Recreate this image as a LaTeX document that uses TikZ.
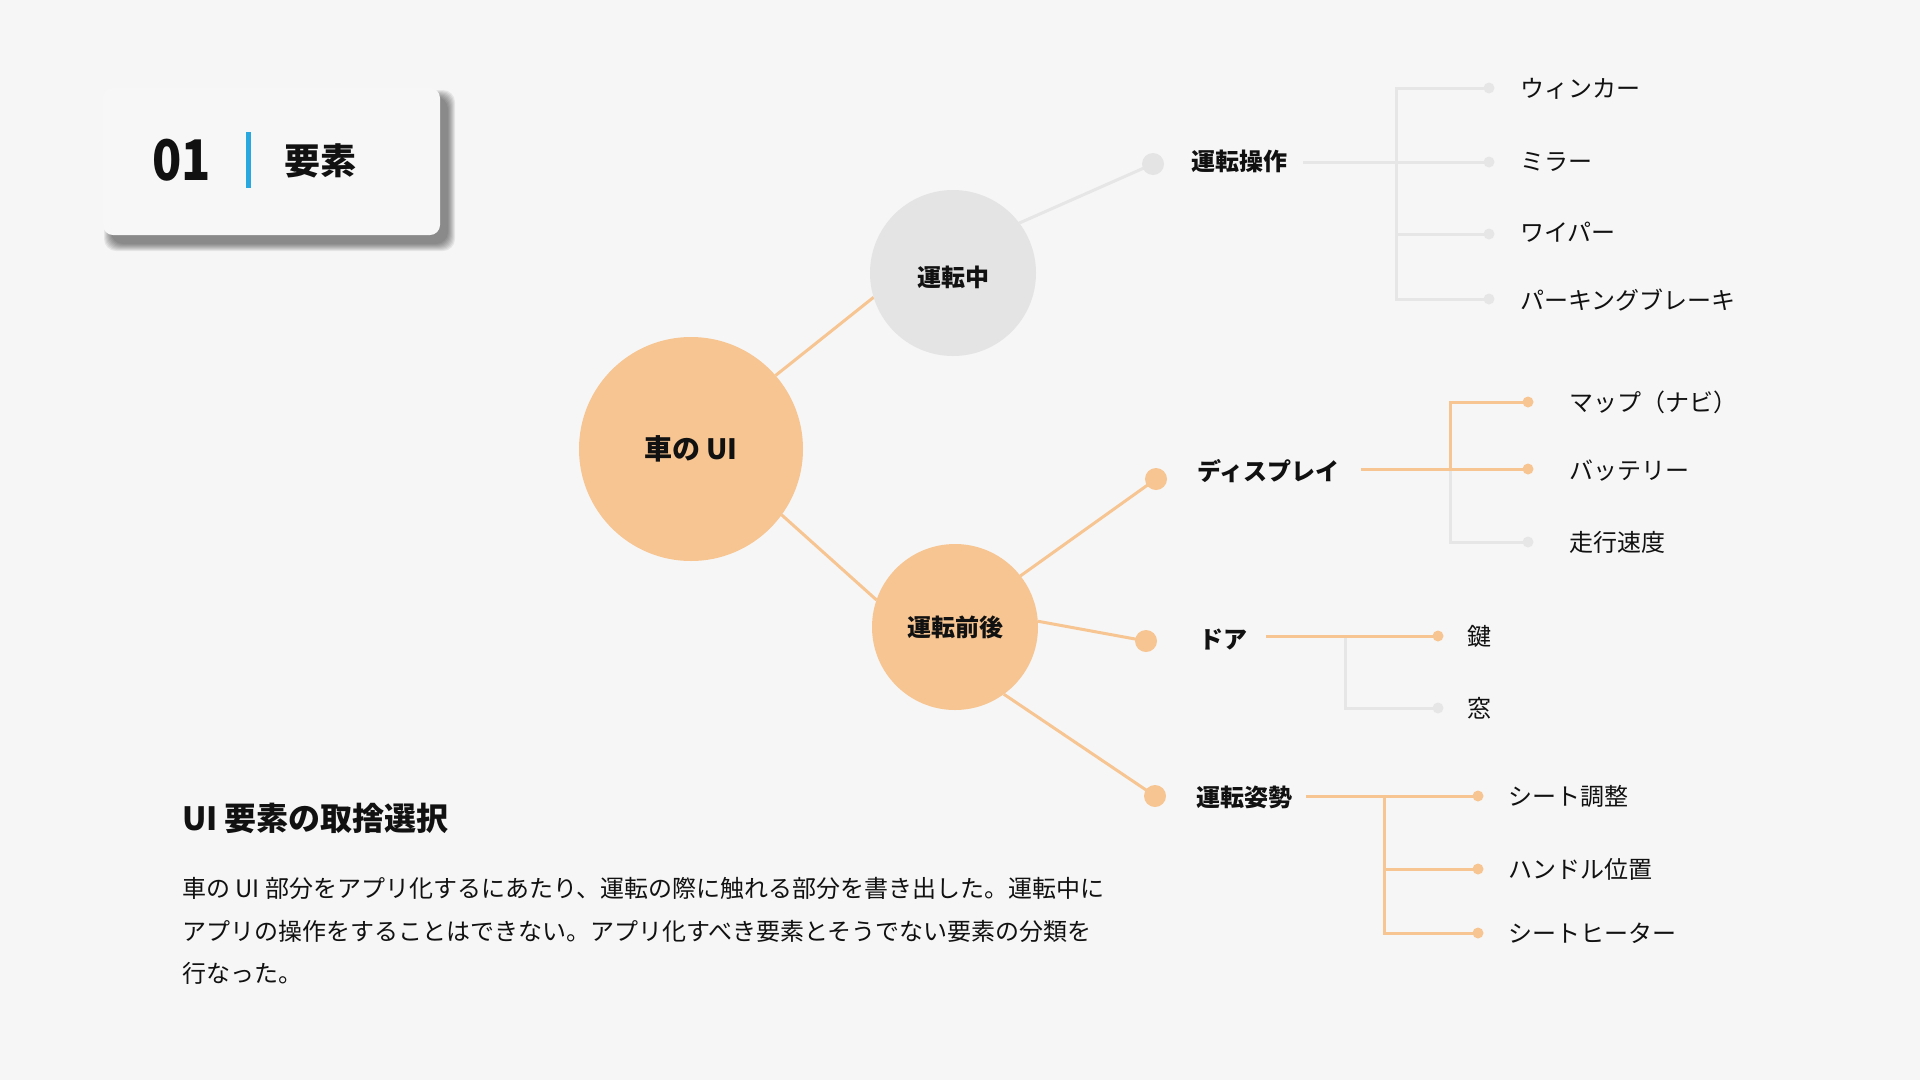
\documentclass[tikz,border=0pt]{standalone}
\usepackage{fontspec}
\setmainfont{Noto Sans CJK JP}
\usetikzlibrary{calc}
\definecolor{bg}{HTML}{F6F6F6}
\definecolor{cardfill}{HTML}{F7F7F7}
\definecolor{uiorange}{HTML}{F6C592}
\definecolor{uigrey}{HTML}{E4E4E4}
\definecolor{uiline}{HTML}{E6E6E6}
\definecolor{uiblue}{HTML}{29A8E0}
\definecolor{ink}{HTML}{111111}
\pgfdeclarelayer{paper}
\pgfdeclarelayer{wires}
\pgfsetlayers{paper,wires,main}
\newcommand{\fsz}[1]{\fontsize{#1}{#1}\selectfont}
\begin{document}
\begin{tikzpicture}[x=1pt,y=-1pt,
  every node/.style={inner sep=0pt, outer sep=0pt, text=ink},
  hub/.style={circle, fill=#1, minimum size=166pt, font=\bfseries\fsz{24}, text height=21pt, text depth=3pt},
  bigdot/.style={circle, fill=#1, minimum size=22pt},
  smalldot/.style={circle, fill=#1, minimum size=11pt},
  branchlabel/.style={anchor=west, font=\bfseries\fsz{24}, text height=21pt, text depth=3pt},
  leaf/.style={anchor=west, font=\fsz{24}, text height=21pt, text depth=3pt},
  bodyline/.style={anchor=west, font=\fsz{24}, text height=21pt, text depth=3pt},
  oline/.style={draw=uiorange, line width=3pt},
  gline/.style={draw=uiline, line width=3pt},
  card/.style={fill=cardfill, rounded corners=10pt, minimum width=337pt, minimum height=147pt}
]
\useasboundingbox (0,0) rectangle (1920,1080);
\begin{pgfonlayer}{paper}
  \fill[bg] (0,0) rectangle (1920,1080);
\end{pgfonlayer}

% ---- title card with soft shadow ----
\foreach \e in {7,6,...,0}
  \fill[black, opacity=0.065, rounded corners=12pt]
    (103+8-\e, 88+9-\e) rectangle (440+8+\e, 235+9+\e);
\node[card] (card) at (271.5,161.5) {};
\node[anchor=west, font=\bfseries\fsz{56}, text height=41pt, text depth=0pt] (num) at (152,160) {\scalebox{0.86}[1]{01}};
\fill[uiblue] (246,132) rectangle (251,188);
\node[anchor=west, font=\bfseries\fsz{36}, text height=31.5pt, text depth=4.5pt] (sec) at (284,161) {要素};

% ---- hubs ----
\node[hub=uiorange, minimum size=224pt, font=\bfseries\fsz{28}, text height=24.5pt, text depth=3.5pt] (car) at (691,449) {車の UI};
\node[hub=uigrey, text height=26pt, text depth=0pt] (drive) at (953,273) {運転中};
\node[hub=uiorange] (after) at (955,627) {運転前後};

% ---- category dots and labels ----
\node[bigdot=uigrey]   (opDot)   at (1153,164) {};
\node[bigdot=uiorange] (dispDot) at (1156,479) {};
\node[bigdot=uiorange] (doorDot) at (1146,641) {};
\node[bigdot=uiorange] (postDot) at (1155,796) {};

\node[branchlabel] (opL)   at (1191,161) {運転操作};
\node[branchlabel] (dispL) at (1197,471) {ディスプレイ};
\node[branchlabel] (doorL) at (1199,639) {ドア};
\node[branchlabel] (postL) at (1196,797) {運転姿勢};

% ---- 運転操作 branch ----
\coordinate (opS) at (1303,162);
\coordinate (opJ) at (1396,162);
\node[smalldot=uiline] (op1) at (1489,88) {};
\node[smalldot=uiline] (op2) at (1489,162) {};
\node[smalldot=uiline] (op3) at (1489,234) {};
\node[smalldot=uiline] (op4) at (1489,299) {};
\node[leaf] (op1t) at (1520,88)  {ウィンカー};
\node[leaf] (op2t) at (1520,161) {ミラー};
\node[leaf] (op3t) at (1520,232) {ワイパー};
\node[leaf] (op4t) at (1520,300) {パーキングブレーキ};

% ---- ディスプレイ branch ----
\coordinate (dS) at (1361,469);
\coordinate (dJ) at (1450,469);
\node[smalldot=uiorange] (d1) at (1528,402) {};
\node[smalldot=uiorange] (d2) at (1528,469) {};
\node[smalldot=uiline]   (d3) at (1528,542) {};
\node[leaf] (d1t) at (1569,402) {マップ（ナビ）};
\node[leaf] (d2t) at (1569,470) {バッテリー};
\node[leaf] (d3t) at (1569,542) {走行速度};

% ---- ドア branch ----
\coordinate (doS) at (1266,636);
\coordinate (doJ) at (1345,636);
\node[smalldot=uiorange] (k1) at (1438,636) {};
\node[smalldot=uiline]   (k2) at (1438,708) {};
\node[leaf] (k1t) at (1467,636) {鍵};
\node[leaf] (k2t) at (1467,708) {窓};

% ---- 運転姿勢 branch ----
\coordinate (pS) at (1306,796);
\coordinate (pJ) at (1384,796);
\node[smalldot=uiorange] (p1) at (1478,796) {};
\node[smalldot=uiorange] (p2) at (1478,869) {};
\node[smalldot=uiorange] (p3) at (1478,933) {};
\node[leaf] (p1t) at (1508,796) {シート調整};
\node[leaf] (p2t) at (1508,869) {ハンドル位置};
\node[leaf] (p3t) at (1508,933) {シートヒーター};

% ---- connectors (behind the nodes) ----
\begin{pgfonlayer}{wires}
  \draw[oline] (car.41) -- (drive.197);
  \draw[oline] (car.-36) -- (after.161);
  \draw[gline] (drive.37) -- (opDot.center);
  \draw[oline] (after.38) -- (dispDot.center);
  \draw[oline] (after.4) -- (doorDot.center);
  \draw[oline] (after.-54) -- (postDot.center);

  \draw[gline] (opS) -- (op2.center);
  \draw[gline] (opJ) |- (op1.center);
  \draw[gline] (opJ) |- (op3.center);
  \draw[gline] (opJ) |- (op4.center);

  \draw[gline] (dJ) |- (d3.center);
  \draw[oline] (dS) -- (d2.center);
  \draw[oline] (dJ) |- (d1.center);

  \draw[gline] (doJ) |- (k2.center);
  \draw[oline] (doS) -- (k1.center);

  \draw[oline] (pS) -- (p1.center);
  \draw[oline] (pJ) |- (p2.center);
  \draw[oline] (pJ) |- (p3.center);
\end{pgfonlayer}

% ---- summary text ----
\node[anchor=west, font=\bfseries\fsz{32}, text height=28pt, text depth=4pt] (sumT) at (182,818) {UI 要素の取捨選択};
\node[bodyline] (b1) at (182,888) {車の UI 部分をアプリ化するにあたり、運転の際に触れる部分を書き出した。運転中に};
\node[bodyline] (b2) at (182,931) {アプリの操作をすることはできない。アプリ化すべき要素とそうでない要素の分類を};
\node[bodyline] (b3) at (182,973) {行なった。};
\end{tikzpicture}
\end{document}
